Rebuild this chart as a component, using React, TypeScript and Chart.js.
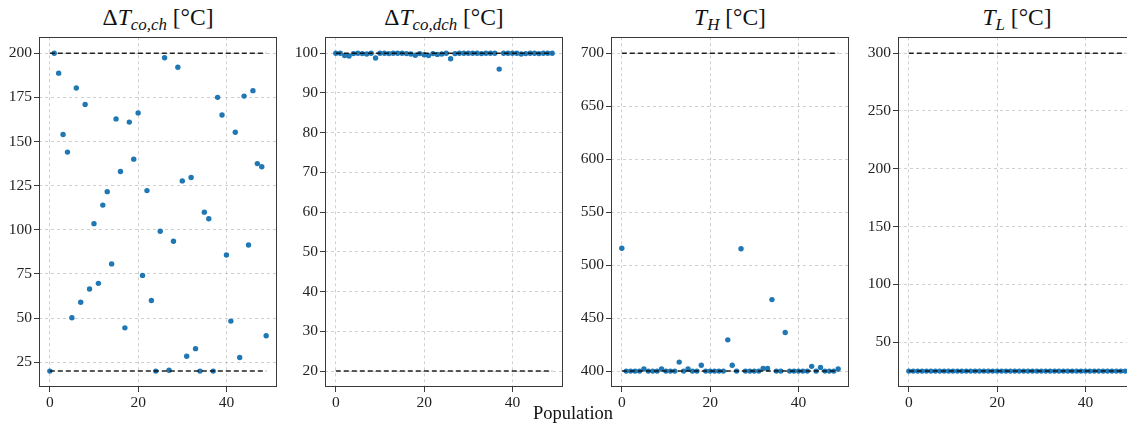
import React, { useEffect, useRef } from "react";
import { Chart, registerables } from "chart.js";

Chart.register(...registerables);

// Population index (x values)
const POPULATION = [
  0, 1, 2, 3, 4, 5, 6, 7, 8, 9, 10, 11, 12, 13, 14, 15, 16, 17, 18, 19,
  20, 21, 22, 23, 24, 25, 26, 27, 28, 29, 30, 31, 32, 33, 34, 35, 36, 37, 38, 39,
  40, 41, 42, 43, 44, 45, 46, 47, 48, 49,
];
const X_TICKS = [0, 20, 40];

const DT_CO_CH = [
  20, 200, 188.7, 154, 144, 50.2, 180.3, 59, 171, 66.5,
  103.5, 69.7, 114, 121.6, 80.7, 162.8, 133, 44.5, 161, 140,
  166.2, 74.2, 122.2, 60, 20, 99.2, 197.4, 20.5, 93.5, 192,
  127.7, 28.4, 129.6, 32.7, 20, 110, 106.3, 20, 175, 165,
  85.7, 48.3, 155.2, 27.7, 175.7, 91.4, 178.8, 137.5, 135.7, 40,
];
const DT_CO_DCH = [
  100, 100, 99.4, 99.3, 99.9, 100, 99.9, 99.8, 100, 98.8,
  100, 100, 99.9, 100, 100, 100, 99.9, 99.8, 99.5, 99.9,
  99.6, 99.4, 99.9, 99.7, 99.8, 100, 98.6, 99.9, 100, 100,
  100, 100, 100, 99.9, 100, 100, 100, 96, 100, 100,
  100, 100, 99.8, 99.9, 100, 100, 99.9, 100, 100, 100,
];
const T_H = [
  516, 400, 400, 400, 400, 402, 400, 400, 400, 402,
  400, 400, 400, 408.5, 400, 402, 400, 400, 405.5, 400,
  400, 400, 400, 400, 429.5, 405.5, 400, 515.5, 400, 400,
  400, 400, 402.5, 402.5, 467.5, 400, 400, 436.5, 400, 400,
  400, 400, 400, 404.5, 400, 403.5, 400, 400, 400, 402,
];
const T_L = [
  25, 25, 25, 25, 25, 25, 25, 25, 25, 25,
  25, 25, 25, 25, 25, 25, 25, 25, 25, 25,
  25, 25, 25, 25, 25, 25, 25, 25, 25, 25,
  25, 25, 25, 25, 25, 25, 25, 25, 25, 25,
  25, 25, 25, 25, 25, 25, 25, 25, 25, 25,
];

const BOUNDS_CO_CH = [20, 200];
const BOUNDS_CO_DCH = [20, 100];
const BOUNDS_H = [400, 700];
const BOUNDS_L = [25, 300];

const Y_TICKS_CO_CH = [25, 50, 75, 100, 125, 150, 175, 200];
const Y_TICKS_CO_DCH = [20, 30, 40, 50, 60, 70, 80, 90, 100];
const Y_TICKS_H = [400, 450, 500, 550, 600, 650, 700];
const Y_TICKS_L = [50, 100, 150, 200, 250, 300];

const SERIF = "'Liberation Serif', 'DejaVu Serif', serif";

const BOX_W = 238;
const BOX_TOP = 31;
const BOX_H = 356;
const PAD_L = 40;
const PAD_R = 5;
const PAD_T = 5;
const X_AX_H = 30;

const boxPlugin = {
  id: "boxPlugin",
  afterDraw(chart: any) {
    const { ctx, chartArea } = chart;
    ctx.save();
    ctx.strokeStyle = "#3a3a3a";
    ctx.lineWidth = 1;
    ctx.setLineDash([]);
    ctx.strokeRect(
      Math.round(chartArea.left) + 0.5,
      Math.round(chartArea.top) + 0.5,
      Math.round(chartArea.right - chartArea.left) - 1,
      Math.round(chartArea.bottom - chartArea.top) - 1
    );
    ctx.restore();
  },
};

type PanelProps = {
  left: number;
  values: number[];
  bounds: number[];
  yTicks: number[];
};

function Panel({ left, values, bounds, yTicks }: PanelProps) {
  const ref = useRef<HTMLCanvasElement>(null);
  useEffect(() => {
    if (!ref.current) return;
    const span = bounds[1] - bounds[0];
    const yMin = bounds[0] - span * 0.05;
    const yMax = bounds[1] + span * 0.05;
    const first = POPULATION[0];
    const last = POPULATION[POPULATION.length - 1];
    const xMin = first - (last - first) * 0.05;
    const xMax = last + (last - first) * 0.05;
    const lineStyle = {
      type: "line" as const,
      borderColor: "rgba(15,15,15,0.92)",
      borderWidth: 1.5,
      borderDash: [5, 3],
      pointRadius: 0,
      fill: false,
      order: 0,
    };
    const gridOpts = {
      color: "rgba(176,176,176,0.75)",
      lineWidth: 0.8,
      tickLength: 5,
      tickColor: "#3a3a3a",
      tickWidth: 1,
      tickBorderDash: [],
    };
    const tickFont = { family: SERIF, size: 15.5 };
    const chart = new Chart(ref.current, {
      type: "scatter",
      data: {
        datasets: [
          { ...lineStyle, data: [{ x: first, y: bounds[1] }, { x: last, y: bounds[1] }] },
          { ...lineStyle, data: [{ x: first, y: bounds[0] }, { x: last, y: bounds[0] }] },
          {
            type: "scatter",
            data: values.map((v, i) => ({ x: POPULATION[i], y: v })),
            backgroundColor: "#1f77b4",
            borderColor: "#1f77b4",
            borderWidth: 0,
            pointRadius: 2.7,
            order: 1,
          } as any,
        ],
      },
      options: {
        animation: false,
        responsive: false,
        devicePixelRatio: 1,
        layout: { padding: { left: 0, right: PAD_R, top: PAD_T, bottom: 0 } },
        plugins: {
          legend: { display: false },
          tooltip: { enabled: false },
          title: { display: false },
        },
        scales: {
          x: {
            type: "linear",
            min: xMin,
            max: xMax,
            afterBuildTicks: (s: any) => {
              s.ticks = X_TICKS.map((v) => ({ value: v }));
            },
            afterFit: (s: any) => {
              s.height = X_AX_H;
            },
            grid: gridOpts,
            border: { display: false, dash: [3, 3] },
            ticks: { font: tickFont, color: "#222", padding: 2, maxRotation: 0 },
          },
          y: {
            type: "linear",
            min: yMin,
            max: yMax,
            afterBuildTicks: (s: any) => {
              s.ticks = yTicks.map((v) => ({ value: v }));
            },
            afterFit: (s: any) => {
              s.width = PAD_L;
            },
            grid: gridOpts,
            border: { display: false, dash: [3, 3] },
            ticks: { font: tickFont, color: "#222", padding: 2 },
          },
        },
      } as any,
      plugins: [boxPlugin],
    });
    return () => chart.destroy();
  }, [values, bounds, yTicks]);

  return (
    <canvas
      ref={ref}
      width={BOX_W + PAD_L + PAD_R}
      height={BOX_H + PAD_T + X_AX_H}
      style={{
        position: "absolute",
        left: left - PAD_L,
        top: BOX_TOP - PAD_T,
        width: BOX_W + PAD_L + PAD_R,
        height: BOX_H + PAD_T + X_AX_H,
      }}
    />
  );
}

const subStyle: React.CSSProperties = {
  fontSize: "0.72em",
  fontStyle: "italic",
  verticalAlign: "-0.28em",
  lineHeight: 0,
};

function Title({ left, children }: { left: number; children: React.ReactNode }) {
  return (
    <div
      style={{
        position: "absolute",
        left,
        top: 4,
        width: BOX_W,
        textAlign: "center",
        fontFamily: SERIF,
        fontSize: 23.5,
        lineHeight: "26px",
        color: "#111",
        whiteSpace: "nowrap",
      }}
    >
      {children}
    </div>
  );
}

const PANEL_LEFTS = [39, 325, 611, 898];

export default function App() {
  useEffect(() => {
    document.body.style.margin = "0";
    document.body.style.overflow = "hidden";
  }, []);
  return (
    <div
      style={{
        position: "relative",
        width: 1127,
        height: 427,
        overflow: "hidden",
        background: "#fff",
      }}
    >
      <Title left={PANEL_LEFTS[0]}>
        Δ<i>T</i>
        <span style={subStyle}>co,ch</span> [°C]
      </Title>
      <Title left={PANEL_LEFTS[1]}>
        Δ<i>T</i>
        <span style={subStyle}>co,dch</span> [°C]
      </Title>
      <Title left={PANEL_LEFTS[2]}>
        <i>T</i>
        <span style={subStyle}>H</span> [°C]
      </Title>
      <Title left={PANEL_LEFTS[3]}>
        <i>T</i>
        <span style={subStyle}>L</span> [°C]
      </Title>
      <Panel left={PANEL_LEFTS[0]} values={DT_CO_CH} bounds={BOUNDS_CO_CH} yTicks={Y_TICKS_CO_CH} />
      <Panel left={PANEL_LEFTS[1]} values={DT_CO_DCH} bounds={BOUNDS_CO_DCH} yTicks={Y_TICKS_CO_DCH} />
      <Panel left={PANEL_LEFTS[2]} values={T_H} bounds={BOUNDS_H} yTicks={Y_TICKS_H} />
      <Panel left={PANEL_LEFTS[3]} values={T_L} bounds={BOUNDS_L} yTicks={Y_TICKS_L} />
      <div
        style={{
          position: "absolute",
          left: 473,
          top: 402,
          width: 200,
          textAlign: "center",
          fontFamily: SERIF,
          fontSize: 18.5,
          lineHeight: "22px",
          color: "#111",
        }}
      >
        Population
      </div>
    </div>
  );
}
